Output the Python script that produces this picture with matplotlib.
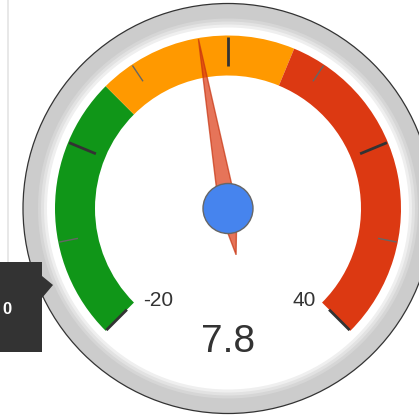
import numpy as np
import matplotlib
matplotlib.use("Agg")
import matplotlib.pyplot as plt
from matplotlib.patches import Circle, Wedge, Polygon, Rectangle

plt.rcParams['font.family'] = ['Liberation Sans', 'DejaVu Sans']

# gauge data
gauge_min, gauge_max = -20, 40
value = 7.8
band_starts = [-20, 0, 15]
band_ends = [0, 15, 40]
band_colors = ['#109618', '#ff9900', '#dc3912']
major_ticks = [-20, -5, 10, 25, 40]
minor_ticks = [-12.5, 2.5, 17.5, 32.5]
tooltip_text = "0"

# layout in pixels (y up)
W, H = 419, 416
cx, cy = 228, 207.5
R = 205


def angle(v):
    # gauge sweeps 270 degrees, clockwise from bottom-left
    a = -135 + 270 * (v - gauge_min) / (gauge_max - gauge_min)
    return 90 - a


def pt(r, deg):
    t = np.radians(deg)
    return cx + r * np.cos(t), cy + r * np.sin(t)


fig = plt.figure(figsize=(W / 100, H / 100), dpi=100)
ax = fig.add_axes([0, 0, 1, 1])
ax.set_xlim(0, W)
ax.set_ylim(0, H)
ax.axis('off')

# left divider line
ax.plot([8, 8], [H - 262, H], color='#e4e4e4', lw=1.2, zorder=0)

# outer ring with soft inner glow
ax.add_patch(Circle((cx, cy), R, facecolor='#cccccc', edgecolor='#333333', lw=0.9, zorder=1))
for r, c in [(190, '#d6d6d6'), (187, '#e2e2e2'), (184, '#efefef'), (181, '#ffffff')]:
    ax.add_patch(Circle((cx, cy), r, facecolor=c, edgecolor='none', zorder=1))

# colour bands
for s, e, c in zip(band_starts, band_ends, band_colors):
    ax.add_patch(Wedge((cx, cy), 173, angle(e), angle(s), width=40,
                       facecolor=c, edgecolor='none', zorder=2))

# ticks
for v in major_ticks:
    x1, y1 = pt(143, angle(v))
    x2, y2 = pt(172, angle(v))
    ax.plot([x1, x2], [y1, y2], color='#333333', lw=2, solid_capstyle='butt', zorder=3)
for v in minor_ticks:
    x1, y1 = pt(153, angle(v))
    x2, y2 = pt(172, angle(v))
    ax.plot([x1, x2], [y1, y2], color='#666666', lw=1, solid_capstyle='butt', zorder=3)

# needle
a = angle(value)
perp = a + 90
tip = pt(172, a)
tail = pt(-47, a)
s1 = pt(9, perp)
s2 = pt(-9, perp)
ax.add_patch(Polygon([tip, s1, tail, s2], closed=True, facecolor='#dc3912', alpha=0.7,
                     edgecolor='#c63310', lw=1, zorder=4))
ax.add_patch(Circle((cx, cy), 25, facecolor='#4684ee', edgecolor='#666666', lw=1, zorder=5))

# labels
ax.text(158, H - 301, str(gauge_min), fontsize=15, color='#333333', ha='center', va='center', zorder=6)
ax.text(304, H - 301, str(gauge_max), fontsize=15, color='#333333', ha='center', va='center', zorder=6)
ax.text(cx, H - 342, f"{value}", fontsize=28, color='#333333', ha='center', va='center', zorder=6)

# tooltip overlay
ax.add_patch(Rectangle((0, H - 352), 42, 90, facecolor='#333333', edgecolor='none', zorder=7))
ax.add_patch(Polygon([(42, H - 276), (53, H - 285), (42, H - 298)], closed=True,
                     facecolor='#333333', edgecolor='none', zorder=7))
ax.text(11, H - 310, tooltip_text, fontsize=12, color='white', fontweight='bold',
        ha='right', va='center', zorder=8)

fig.savefig('out.png', dpi=100)
